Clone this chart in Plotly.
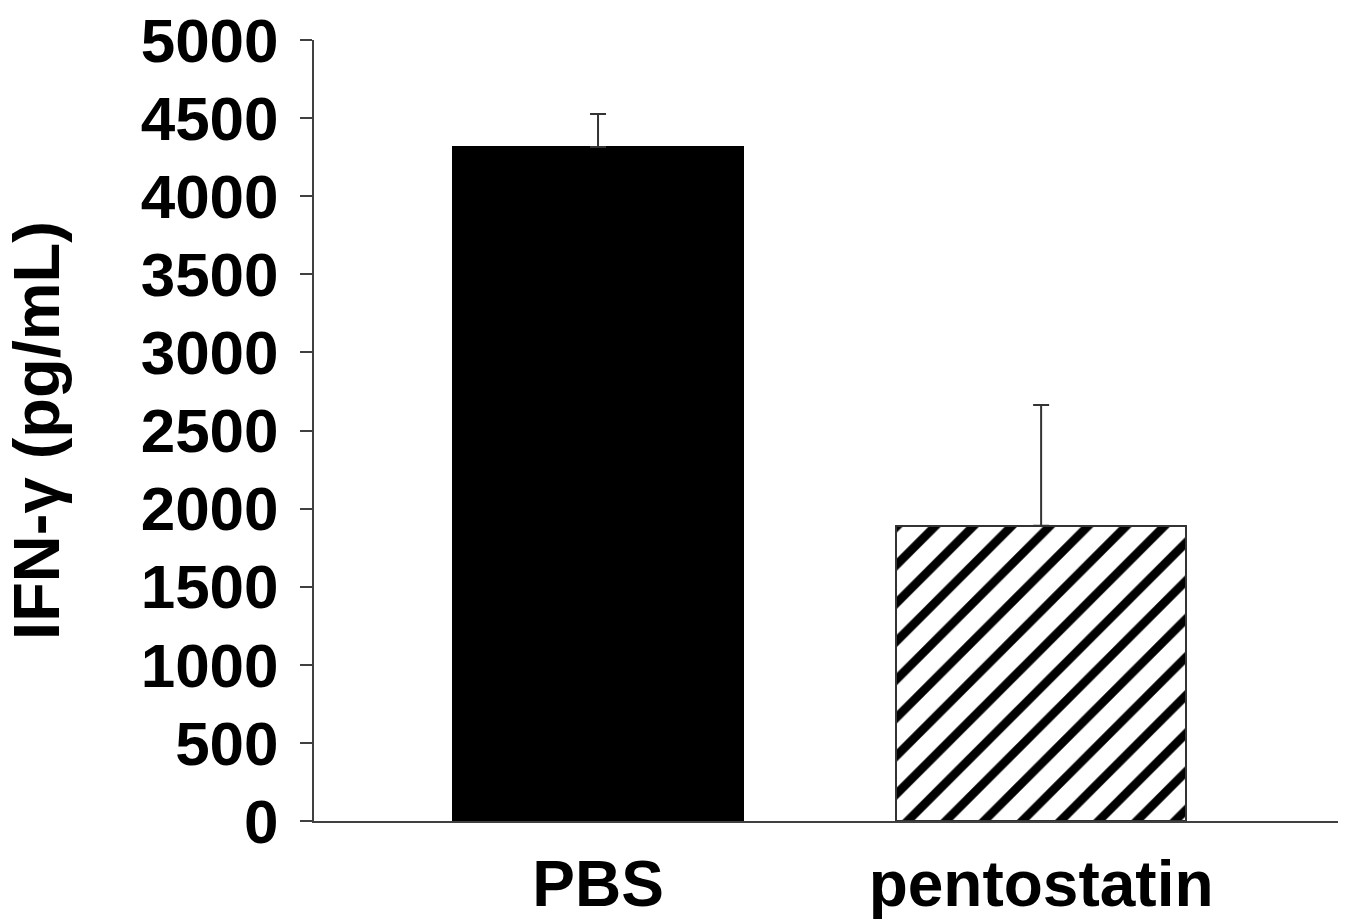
import plotly.graph_objects as go

categories = ["PBS", "pentostatin"]
means = [4315, 1890]
errors_plus = [211, 773]
errors_minus = [0, 0]
y_ticks = [0, 500, 1000, 1500, 2000, 2500, 3000, 3500, 4000, 4500, 5000]

FONT = "Liberation Sans, Arial, sans-serif"
x_pos = list(range(len(categories)))

fig = go.Figure()
fig.add_trace(go.Bar(
    x=[x_pos[0]], y=[means[0]],
    width=0.655,
    marker=dict(color="black", line=dict(color="black", width=2)),
    error_y=dict(type="data", symmetric=False, array=[errors_plus[0]], arrayminus=[errors_minus[0]],
                 color="#333333", thickness=2, width=8),
    showlegend=False,
))
fig.add_trace(go.Bar(
    x=[x_pos[1]], y=[means[1]],
    width=0.655,
    marker=dict(color="white", line=dict(color="#333333", width=2),
                pattern=dict(shape="/", fgcolor="black", bgcolor="white", fgopacity=1,
                             fillmode="replace", size=27, solidity=0.32)),
    error_y=dict(type="data", symmetric=False, array=[errors_plus[1]], arrayminus=[errors_minus[1]],
                 color="#333333", thickness=2, width=8),
    showlegend=False,
))

fig.update_layout(
    width=1347, height=921,
    margin=dict(l=314, r=9, t=40, b=100, autoexpand=False),
    paper_bgcolor="white", plot_bgcolor="white",
    font=dict(family=FONT, color="black", size=62),
    xaxis=dict(
        tickmode="array", tickvals=x_pos, ticktext=categories,
        range=[-0.641, 1.670],
        showline=True, linecolor="#404040", linewidth=2,
        ticks="", showgrid=False, zeroline=False,
        tickfont=dict(family=FONT, size=64, color="black", weight="bold"),
        ticklabelstandoff=6,
    ),
    yaxis=dict(
        range=[0, 5000],
        tickmode="array", tickvals=y_ticks, ticktext=[str(v) for v in y_ticks],
        showline=True, linecolor="#404040", linewidth=2,
        ticks="outside", ticklen=12, tickwidth=2, tickcolor="#404040",
        showgrid=False, zeroline=False,
        tickfont=dict(family=FONT, size=62, color="black", weight="bold"),
        ticklabelstandoff=9,
        title=dict(text="IFN-γ (pg/mL)", font=dict(family=FONT, size=65, color="black", weight="bold"),
                   standoff=62),
    ),
    bargap=0,
)

fig.write_html("out.html", config={"displayModeBar": False},
               post_script="document.body.style.margin='0';document.body.style.overflow='hidden';")
